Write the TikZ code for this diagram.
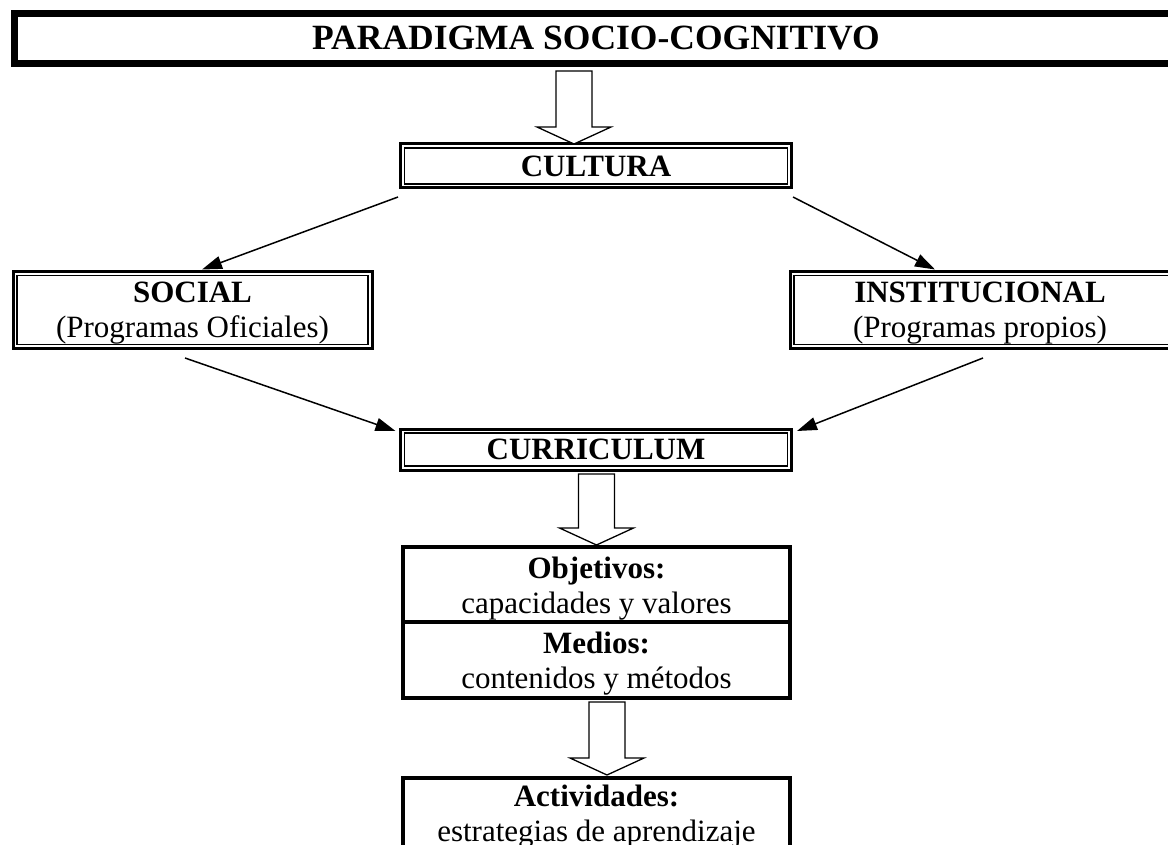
\documentclass[tikz,border=0pt]{standalone}
\usepackage{fontspec}
\setmainfont{Liberation Serif}
\usetikzlibrary{arrows.meta,calc}

% broad hollow arrow pointing down, from anchor #1 (shaft top) to anchor #2 (tip)
\newcommand\hollowdown[2]{%
  \draw[hollow] let \p1=(#1), \p2=(#2) in
    (\x2-18pt,\y1) -- (\x2+18pt,\y1) -- (\x2+18pt,\y2+17pt) -- (\x2+37pt,\y2+17pt)
    -- (\x2,\y2) -- (\x2-37pt,\y2+17pt) -- (\x2-18pt,\y2+17pt) -- cycle;}

\begin{document}
\begin{tikzpicture}[x=1pt,y=-1pt,
  txt/.style={font=\fontsize{31}{35}\selectfont, align=center, inner sep=0pt, outer sep=0pt},
  titlebox/.style={draw, line width=7pt, outer sep=0pt, inner sep=0pt,
                   font=\fontsize{35.5}{40}\selectfont\bfseries},
  dbox/.style={txt, draw, line width=3pt},
  innerline/.style={line width=1.2pt},
  sbox/.style={draw, line width=4.5pt, outer sep=0pt, inner sep=0pt},
  hollow/.style={draw, line width=1.3pt, fill=white, line join=miter},
  link/.style={line width=1.5pt, -{Triangle[length=20pt,width=13pt]}}
]
\useasboundingbox (0,0) rectangle (1168,845);

% heading
\node[titlebox, minimum width=1164pt, minimum height=50pt] (title) at (596,38.5) {PARADIGMA SOCIO-COGNITIVO};

% culture
\node[dbox, minimum width=391pt, minimum height=44pt] (cult) at (596,166) {\bfseries CULTURA};
\draw[innerline] ([shift={(4,4)}]cult.north west) rectangle ([shift={(-4,-4)}]cult.south east);

% social and institutional programmes
\node[dbox, minimum width=359pt, minimum height=77pt] (soc) at (192.5,310) {};
\draw[innerline] ([shift={(4,4)}]soc.north west) rectangle ([shift={(-4,-4)}]soc.south east);
\node[txt] (soctext) at ([yshift=-3pt]soc.center) {\textbf{SOCIAL}\\(Programas Oficiales)};

\node[dbox, minimum width=386pt, minimum height=77pt] (inst) at (983,310) {};
\draw[innerline] ([shift={(4,4)}]inst.north west) rectangle ([shift={(-4,-4)}]inst.south east);
\node[txt] (insttext) at ([shift={(-3,3)}]inst.center) {\textbf{INSTITUCIONAL}\\(Programas propios)};

% curriculum
\node[dbox, minimum width=391pt, minimum height=41pt] (curr) at (596,449.5) {\bfseries CURRICULUM};
\draw[innerline] ([shift={(4,4)}]curr.north west) rectangle ([shift={(-4,-4)}]curr.south east);

% objectives and means
\node[sbox, minimum width=387pt, minimum height=75pt] (obj) at (596.5,584.5) {};
\node[sbox, minimum width=387pt, minimum height=76pt] (med) at (596.5,660) {};
\node[txt] (objtext) at ([yshift=-4pt]obj.center) {\textbf{Objetivos:}\\capacidades y valores};
\node[txt] (medtext) at ([yshift=-4pt]med.center) {\textbf{Medios:}\\contenidos y métodos};

% activities
\node[sbox, minimum width=387pt, minimum height=100pt, anchor=north] (act) at (596.5,778) {};
\node[txt] (acttext) at ([yshift=-39pt]act.north) {\textbf{Actividades:}\\estrategias de aprendizaje};

% broad arrows
\hollowdown{[shift={(-22,7.5)}]title.south}{[xshift=-22pt]cult.north}
\hollowdown{[shift={(0.5,4)}]curr.south}{[shift={(0,-2)}]obj.north}
\hollowdown{[shift={(10.5,4)}]med.south}{[shift={(10.5,-3)}]act.north}

% thin connectors
\coordinate (cultL) at ([shift={(-2.5,9)}]cult.south west);
\coordinate (cultR) at ([shift={(1.5,9)}]cult.south east);
\coordinate (socIn) at ([shift={(9.5,-2)}]soc.north);
\coordinate (instIn) at ([shift={(-48,-2)}]inst.north);
\coordinate (socOut) at ([shift={(-7.5,9.5)}]soc.south);
\coordinate (instOut) at ([shift={(0,9.5)}]inst.south);
\coordinate (currL) at ([shift={(-5,2)}]curr.north west);
\coordinate (currR) at ([shift={(5.5,2)}]curr.north east);

\draw[link] (cultL) -- (socIn);
\draw[link] (cultR) -- (instIn);
\draw[link] (socOut) -- (currL);
\draw[link] (instOut) -- (currR);
\end{tikzpicture}
\end{document}
